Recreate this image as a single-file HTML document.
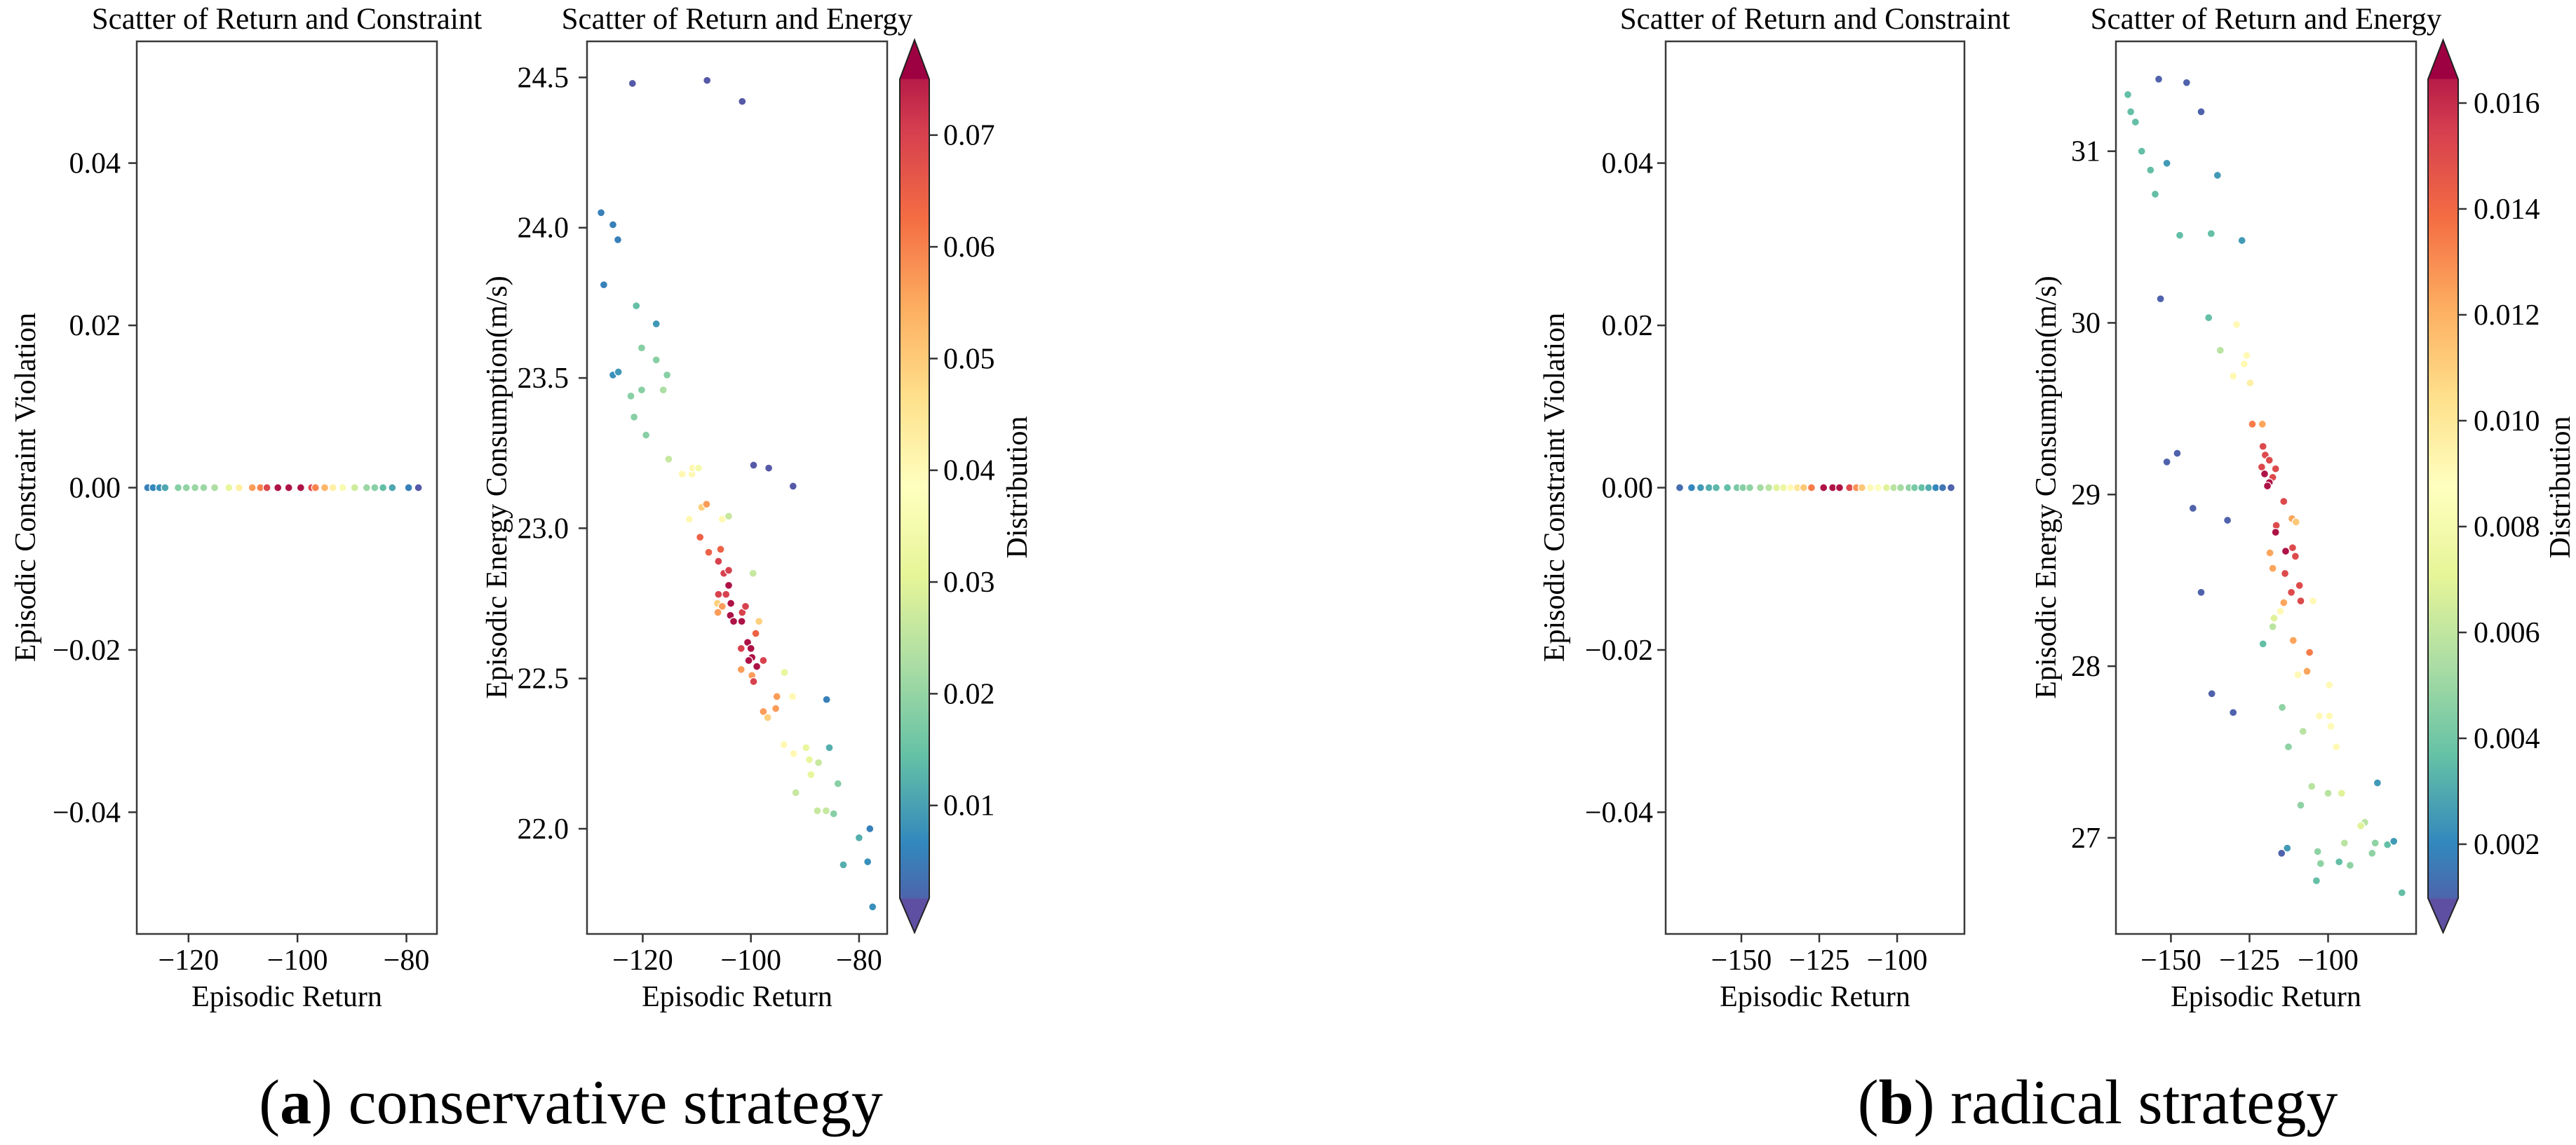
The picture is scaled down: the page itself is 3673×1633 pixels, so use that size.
<!DOCTYPE html>
<html><head><meta charset="utf-8"><title>Scatter of Return</title>
<style>
html,body{margin:0;padding:0;background:#fff;}
svg{display:block;font-family:"Liberation Serif","DejaVu Serif",serif;}
</style></head>
<body>
<svg id="fig" width="3673" height="1633" viewBox="0 0 3673 1633" xmlns="http://www.w3.org/2000/svg">
<defs>
<linearGradient id="spec" x1="0" y1="1" x2="0" y2="0">
<stop offset="0" stop-color="#5e4fa2"/><stop offset="0.1" stop-color="#3288bd"/><stop offset="0.2" stop-color="#66c2a5"/><stop offset="0.3" stop-color="#abdda4"/><stop offset="0.4" stop-color="#e6f598"/><stop offset="0.5" stop-color="#ffffbf"/><stop offset="0.6" stop-color="#fee08b"/><stop offset="0.7" stop-color="#fdae61"/><stop offset="0.8" stop-color="#f46d43"/><stop offset="0.9" stop-color="#d53e4f"/><stop offset="1" stop-color="#9e0142"/>
</linearGradient>
</defs>
<g id="root"></g>
<text x="814" y="1602" font-size="90" text-anchor="middle">(<tspan font-weight="bold">a</tspan>) conservative strategy</text>
<text x="2991" y="1602" font-size="90" text-anchor="middle">(<tspan font-weight="bold">b</tspan>) radical strategy</text>
</svg>
<script>
// ---------- data: conservative strategy ----------
const consViolX = [-127.5,-126.5,-125.3,-124.3,-121.9,-120.4,-118.8,-117.2,-115.2,-112.6,-110.7,-108.3,-106.8,-105.6,-103.6,-101.6,-99.4,-97.4,-96.7,-95.0,-93.5,-91.7,-89.5,-87.3,-85.8,-84.3,-82.6,-79.6,-77.8];
const consViolC = [0.008,0.009,0.010,0.013,0.02,0.021,0.022,0.022,0.024,0.032,0.042,0.055,0.058,0.066,0.073,0.073,0.073,0.066,0.058,0.052,0.042,0.036,0.028,0.022,0.02,0.016,0.013,0.008,0.003];
const consEnX = [-121.9,-108.1,-101.6,-127.7,-125.5,-124.6,-127.2,-121.2,-117.5,-120.2,-117.5,-125.5,-124.5,-115.5,-120.2,-116.2,-122.2,-121.6,-119.4,-115.2,-112.7,-110.9,-110.8,-109.7,-99.5,-96.7,-92.2,-109.1,-108.2,-111.4,-105.3,-104.1,-109.4,-107.8,-105.6,-106.0,-105.0,-104.1,-99.6,-104.1,-106.0,-104.6,-106.2,-105.3,-106.1,-103.7,-103.8,-103.2,-101.7,-101.6,-101.0,-98.5,-99.1,-100.6,-101.8,-100.0,-99.8,-100.4,-98.9,-97.7,-101.8,-99.8,-99.5,-93.8,-95.2,-95.4,-97.7,-96.9,-92.3,-86.0,-93.9,-89.8,-85.5,-92.1,-89.2,-87.5,-88.9,-83.9,-91.7,-87.7,-86.1,-84.7,-78.0,-80.0,-82.9,-78.4,-77.5];
const consEnY = [24.48,24.49,24.42,24.05,24.01,23.96,23.81,23.74,23.68,23.60,23.56,23.51,23.52,23.51,23.46,23.46,23.44,23.37,23.31,23.23,23.18,23.18,23.20,23.20,23.21,23.20,23.14,23.07,23.08,23.03,23.03,23.04,22.97,22.92,22.93,22.89,22.85,22.86,22.85,22.81,22.78,22.78,22.75,22.74,22.72,22.75,22.71,22.69,22.69,22.72,22.74,22.69,22.65,22.62,22.60,22.60,22.57,22.56,22.54,22.56,22.53,22.51,22.49,22.52,22.44,22.40,22.39,22.37,22.44,22.43,22.28,22.27,22.27,22.25,22.23,22.22,22.18,22.15,22.12,22.06,22.06,22.05,22.00,21.97,21.88,21.89,21.74];
const consEnC = [0.003,0.003,0.003,0.008,0.008,0.008,0.008,0.016,0.011,0.02,0.02,0.010,0.011,0.02,0.02,0.024,0.02,0.02,0.02,0.027,0.04,0.04,0.04,0.035,0.003,0.003,0.003,0.048,0.055,0.04,0.04,0.027,0.062,0.062,0.062,0.067,0.067,0.067,0.027,0.073,0.067,0.067,0.048,0.055,0.055,0.073,0.073,0.073,0.073,0.067,0.067,0.048,0.062,0.073,0.067,0.073,0.073,0.073,0.073,0.067,0.055,0.055,0.067,0.032,0.055,0.055,0.055,0.048,0.04,0.008,0.04,0.032,0.014,0.04,0.032,0.027,0.032,0.02,0.027,0.027,0.027,0.02,0.008,0.014,0.014,0.010,0.010];
// ---------- data: radical strategy ----------
const radViolX = [-169.8,-166.0,-163.1,-160.4,-158.1,-154.5,-151.4,-149.5,-147.3,-143.9,-141.2,-138.7,-136.5,-134.2,-132.0,-130.0,-127.5,-123.6,-120.7,-118.5,-115.3,-113.1,-111.3,-108.6,-106.1,-103.4,-101.1,-98.9,-96.2,-94.4,-92.1,-89.9,-87.6,-85.4,-82.7];
const radViolC = [0.0018,0.0025,0.003,0.0035,0.0038,0.004,0.0045,0.0048,0.005,0.0055,0.006,0.007,0.0075,0.009,0.01,0.011,0.013,0.016,0.016,0.016,0.0145,0.0125,0.011,0.009,0.0085,0.007,0.006,0.0055,0.005,0.0045,0.004,0.0035,0.0025,0.002,0.0015];
const radEnX = [-163.7,-153.9,-145.0,-162.8,-161.3,-140.4,-159.3,-151.3,-156.5,-155.0,-135.2,-147.2,-137.2,-127.4,-153.3,-138.0,-129.1,-134.3,-125.9,-126.7,-130.2,-124.8,-124.1,-120.9,-148.0,-151.3,-120.7,-120.0,-118.7,-121.1,-116.7,-120.2,-117.6,-118.7,-119.3,-143.0,-114.1,-132.0,-111.5,-110.2,-116.5,-116.7,-113.5,-111.3,-110.4,-118.5,-113.7,-117.6,-140.4,-109.1,-111.7,-114.1,-108.7,-104.8,-115.2,-117.2,-117.6,-120.7,-111.1,-105.9,-106.7,-109.6,-99.6,-137.0,-130.2,-114.6,-102.8,-99.6,-99.1,-108.0,-97.4,-112.6,-84.3,-105.2,-100.0,-95.7,-108.7,-88.3,-89.6,-94.8,-85.0,-81.1,-79.1,-113.0,-114.8,-103.3,-86.0,-96.5,-102.4,-93.0,-103.7,-76.5];
const radEnY = [31.33,31.42,31.40,31.23,31.17,31.23,31.00,30.93,30.89,30.75,30.86,30.51,30.52,30.48,30.14,30.03,29.99,29.84,29.81,29.76,29.69,29.65,29.41,29.41,29.24,29.19,29.28,29.23,29.20,29.16,29.15,29.12,29.10,29.07,29.05,28.92,28.96,28.85,28.86,28.84,28.82,28.78,28.67,28.69,28.64,28.66,28.54,28.57,28.43,28.47,28.43,28.37,28.38,28.38,28.32,28.28,28.23,28.13,28.15,28.08,27.97,27.95,27.89,27.84,27.73,27.76,27.71,27.71,27.65,27.62,27.53,27.53,27.32,27.30,27.26,27.26,27.19,27.09,27.07,26.97,26.97,26.96,26.98,26.94,26.91,26.92,26.91,26.86,26.85,26.84,26.75,26.68];
const radEnC = [0.004,0.0015,0.0015,0.004,0.004,0.0015,0.004,0.003,0.004,0.004,0.003,0.004,0.004,0.003,0.0015,0.004,0.009,0.006,0.009,0.009,0.009,0.0095,0.013,0.012,0.0015,0.0015,0.0145,0.0145,0.0145,0.0145,0.0145,0.016,0.0145,0.016,0.016,0.0015,0.0145,0.0015,0.012,0.011,0.0145,0.016,0.016,0.0145,0.0145,0.012,0.0145,0.012,0.0015,0.0145,0.0145,0.012,0.0145,0.009,0.009,0.007,0.006,0.004,0.012,0.013,0.012,0.009,0.009,0.0015,0.0015,0.005,0.009,0.009,0.009,0.006,0.009,0.005,0.003,0.006,0.006,0.007,0.005,0.006,0.007,0.006,0.005,0.004,0.003,0.003,0.0015,0.005,0.005,0.004,0.005,0.005,0.004,0.004];
// ---------- ticks ----------
const violTicks = [0.04,0.02,0.00,-0.02,-0.04];
const violTickLabels = ["0.04","0.02","0.00","\u22120.02","\u22120.04"];
const consXTicks = [-120,-100,-80];
const consXTickLabels = ["\u2212120","\u2212100","\u221280"];
const radXTicks = [-150,-125,-100];
const radXTickLabels = ["\u2212150","\u2212125","\u2212100"];
const consEnTicks = [24.5,24.0,23.5,23.0,22.5,22.0];
const consEnTickLabels = ["24.5","24.0","23.5","23.0","22.5","22.0"];
const radEnTicks = [31,30,29,28,27];
const radEnTickLabels = ["31","30","29","28","27"];
const consCbTicks = [0.07,0.06,0.05,0.04,0.03,0.02,0.01];
const consCbTickLabels = ["0.07","0.06","0.05","0.04","0.03","0.02","0.01"];
const radCbTicks = [0.016,0.014,0.012,0.010,0.008,0.006,0.004,0.002];
const radCbTickLabels = ["0.016","0.014","0.012","0.010","0.008","0.006","0.004","0.002"];

const NS = "http://www.w3.org/2000/svg";
const root = document.getElementById('root');
const SPEC = ["#5e4fa2","#3288bd","#66c2a5","#abdda4","#e6f598","#ffffbf","#fee08b","#fdae61","#f46d43","#d53e4f","#9e0142"];
function hex(h){return [parseInt(h.substr(1,2),16),parseInt(h.substr(3,2),16),parseInt(h.substr(5,2),16)];}
function cmap(t){t=Math.max(0,Math.min(1,t));const s=t*10;const i=Math.min(9,Math.floor(s));const f=s-i;const a=hex(SPEC[i]),b=hex(SPEC[i+1]);
return "rgb("+a.map((v,k)=>Math.round(v+(b[k]-v)*f)).join(",")+")";}
function el(tag,attrs,parent){const e=document.createElementNS(NS,tag);for(const k in attrs)e.setAttribute(k,attrs[k]);(parent||root).appendChild(e);return e;}
function lin(d0,d1,r0,r1){return v=>r0+(v-d0)/(d1-d0)*(r1-r0);}
const TOP=59,BOT=1332,FS=42;

function axes(o){
  const g=el('g',{});
  
  
  const sx=lin(o.xlim[0],o.xlim[1],o.x0,o.x1), sy=lin(o.ylim[0],o.ylim[1],BOT,TOP);
  const pts=el('g',{},g);
  
  
  for(let i=0;i<o.xs.length;i++){
    const c=el('circle',{cx:sx(o.xs[i]).toFixed(1),cy:sy(o.ys[i]).toFixed(1),r:5.5,fill:cmap((o.cs[i]-o.vmin)/(o.vmax-o.vmin)),stroke:'#fff','stroke-width':1.3},pts);
    
    
  }
  const fr=el('rect',{x:o.x0,y:TOP,width:o.x1-o.x0,height:BOT-TOP,fill:'none',stroke:'#3a3a3a','stroke-width':2.5},g);
  
  
  o.xt.forEach((v,i)=>{const x=sx(v);
    el('line',{x1:x,y1:BOT,x2:x,y2:BOT+12,stroke:'#333','stroke-width':2.5},g);
    const t=el('text',{x:x,y:1383,'font-size':FS,'text-anchor':'middle'},g);t.textContent=o.xtl[i];
    
    });
  o.yt.forEach((v,i)=>{const y=sy(v);
    el('line',{x1:o.x0-12,y1:y,x2:o.x0,y2:y,stroke:'#333','stroke-width':2.5},g);
    const t=el('text',{x:o.ylabEnd,y:y+14,'font-size':FS,'text-anchor':'end'},g);t.textContent=o.ytl[i];
    
    });
  const cx=(o.x0+o.x1)/2;
  const ti=el('text',{x:cx,y:41,'font-size':43,'text-anchor':'middle'},g);ti.textContent=o.title;
  
  
  const xl=el('text',{x:cx,y:1435,'font-size':FS,'text-anchor':'middle'},g);xl.textContent='Episodic Return';
  
  
  const yl=el('text',{x:0,y:0,'font-size':FS,'text-anchor':'middle',transform:'translate('+(o.ylabX+14)+',695) rotate(-90)'},g);yl.textContent=o.ylabel;
  
  
}
function colorbar(o){
  const g=el('g',{});
  
  
  const r0=113,r1=1281,tip0=57,tip1=1330;
  const sy=lin(o.vmin,o.vmax,r1,r0);
  const mx=(o.x0+o.x1)/2;
  el('path',{d:`M${o.x0},${r0} L${mx},${tip0} L${o.x1},${r0} L${o.x1},${r1} L${mx},${tip1} L${o.x0},${r1} Z`,fill:'url(#spec)',stroke:'none'},g);
  el('path',{d:`M${o.x0},${r0-0.5} L${mx},${tip0} L${o.x1},${r0-0.5} Z`,fill:'#9e0142'},g);
  el('path',{d:`M${o.x0},${r1+0.5} L${mx},${tip1} L${o.x1},${r1+0.5} Z`,fill:'#5e4fa2'},g);
  el('path',{d:`M${o.x0},${r0} L${mx},${tip0} L${o.x1},${r0} L${o.x1},${r1} L${mx},${tip1} L${o.x0},${r1} Z`,fill:'none',stroke:'#222','stroke-width':2},g);
  o.t.forEach((v,i)=>{const y=sy(v);
    el('line',{x1:o.x1,y1:y,x2:o.x1+12,y2:y,stroke:'#333','stroke-width':2.5},g);
    const t=el('text',{x:o.labStart,y:y+14,'font-size':FS},g);t.textContent=o.tl[i];
    
    });
  const l=el('text',{x:0,y:0,'font-size':FS,'text-anchor':'middle',transform:'translate('+(o.labX+14)+',695) rotate(-90)'},g);l.textContent='Distribution';
  
  
}
const cV=[0.0017,0.0750], rV=[0.00098,0.01645];
axes({name:'cons-constraint-scatter',x0:195,x1:623,xlim:[-129.5,-74.4],ylim:[-0.055,0.055],xs:consViolX,ys:consViolX.map(()=>0),cs:consViolC,vmin:cV[0],vmax:cV[1],
  xt:consXTicks,xtl:consXTickLabels,yt:violTicks,ytl:violTickLabels,ylabEnd:172,ylabX:36,title:'Scatter of Return and Constraint',ylabel:'Episodic Constraint Violation'});
axes({name:'cons-energy-scatter',x0:837,x1:1265,xlim:[-130.3,-74.8],ylim:[21.65,24.62],xs:consEnX,ys:consEnY,cs:consEnC,vmin:cV[0],vmax:cV[1],
  xt:consXTicks,xtl:consXTickLabels,yt:consEnTicks,ytl:consEnTickLabels,ylabEnd:811,ylabX:708,title:'Scatter of Return and Energy',ylabel:'Episodic Energy Consumption(m/s)'});
colorbar({name:'cons-colorbar',x0:1283,x1:1325,vmin:cV[0],vmax:cV[1],t:consCbTicks,tl:consCbTickLabels,labStart:1345,labX:1450});
axes({name:'rad-constraint-scatter',x0:2375,x1:2801,xlim:[-174.3,-78.4],ylim:[-0.055,0.055],xs:radViolX,ys:radViolX.map(()=>0),cs:radViolC,vmin:rV[0],vmax:rV[1],
  xt:radXTicks,xtl:radXTickLabels,yt:violTicks,ytl:violTickLabels,ylabEnd:2357,ylabX:2216,title:'Scatter of Return and Constraint',ylabel:'Episodic Constraint Violation'});
axes({name:'rad-energy-scatter',x0:3017,x1:3445,xlim:[-167.5,-72.0],ylim:[26.44,31.64],xs:radEnX,ys:radEnY,cs:radEnC,vmin:rV[0],vmax:rV[1],
  xt:radXTicks,xtl:radXTickLabels,yt:radEnTicks,ytl:radEnTickLabels,ylabEnd:2995,ylabX:2917,title:'Scatter of Return and Energy',ylabel:'Episodic Energy Consumption(m/s)'});
colorbar({name:'rad-colorbar',x0:3462,x1:3505,vmin:rV[0],vmax:rV[1],t:radCbTicks,tl:radCbTickLabels,labStart:3527,labX:3650});
</script>
</body></html>
